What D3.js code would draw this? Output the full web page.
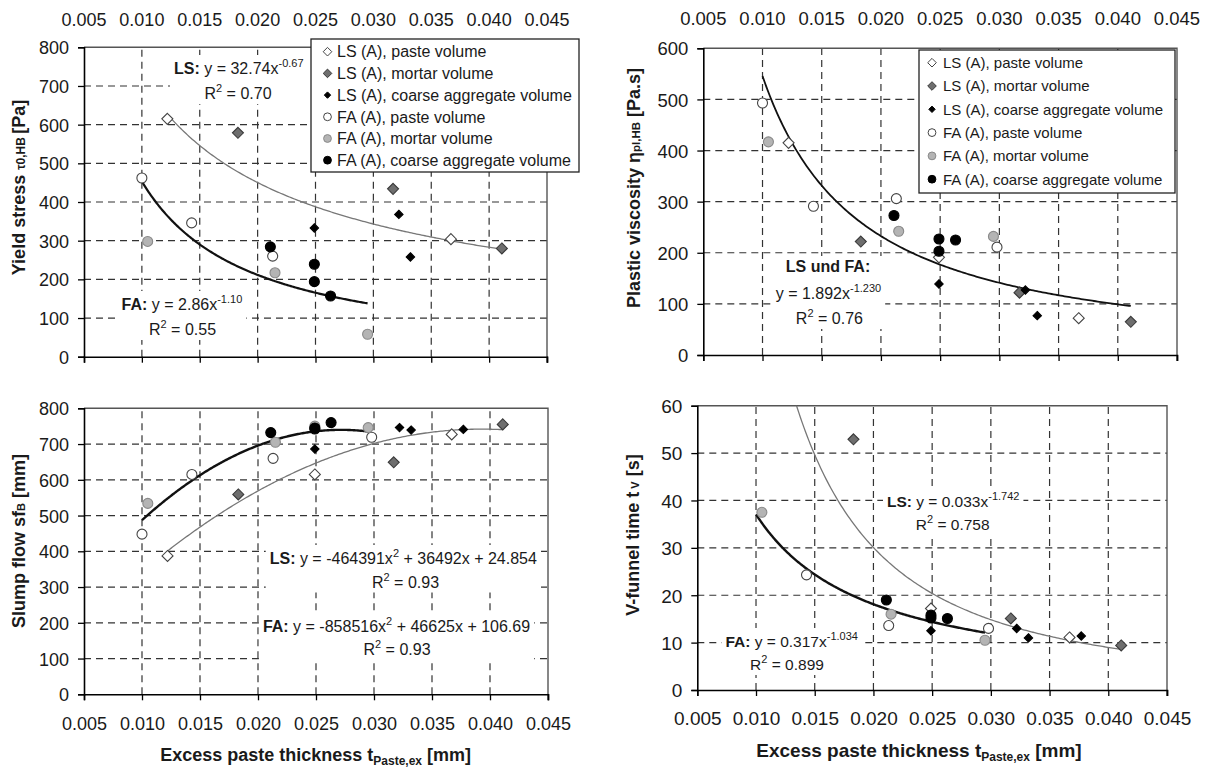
<!DOCTYPE html>
<html><head><meta charset="utf-8">
<script src="https://cdn.jsdelivr.net/npm/d3@7"></script>
<style>
body{margin:0;background:#fff}
svg{display:block;font-family:"Liberation Sans",Arial,sans-serif}
</style>
</head><body>
<svg id="c" width="1208" height="767"></svg>
<script>
// ---------- DATA ----------
const xTicks = [0.005, 0.010, 0.015, 0.020, 0.025, 0.030, 0.035, 0.040, 0.045];
const xTickLabels = ["0.005","0.010","0.015","0.020","0.025","0.030","0.035","0.040","0.045"];

const seriesNames = ["LS (A), paste volume","LS (A), mortar volume","LS (A), coarse aggregate volume",
                     "FA (A), paste volume","FA (A), mortar volume","FA (A), coarse aggregate volume"];

// excess paste thickness per series
const lsPasteX  = [0.0122, 0.0249, 0.0367];
const lsMortarX = [0.0183, 0.0317, 0.0411];
const lsCoarseX = [0.0249, 0.0322, 0.0332, 0.0377];
const faPasteX  = [0.0100, 0.0143, 0.0213, 0.0298];
const faMortarX = [0.0105, 0.0215, 0.0249, 0.0295];
const faCoarseX = [0.0211, 0.0249, 0.0249, 0.0263];

// Yield stress [Pa]
const yieldTicks = [0,100,200,300,400,500,600,700,800];
const yieldLsPaste  = [615, null, 304];
const yieldLsMortar = [579, 434, 280];
const yieldLsCoarse = [333, 368, 258, null];
const yieldFaPaste  = [462, 346, 260, null];
const yieldFaMortar = [298, 217, null, 58];
const yieldFaCoarse = [284, 239, 194, 157];

// Plastic viscosity [Pa.s]
const viscTicks = [0,100,200,300,400,500,600];
const viscLsPaste  = [415, 191, 72];
const viscLsMortar = [222, 122, 65];
const viscLsCoarse = [139, 127, 77, null];
const viscFaPaste  = [493, 291, 306, 211];
const viscFaMortar = [417, 242, null, 232];
const viscFaCoarse = [273, 227, 203, 225];

// Slump flow [mm]
const slumpTicks = [0,100,200,300,400,500,600,700,800];
const slumpLsPaste  = [387, 615, 727];
const slumpLsMortar = [559, 649, 755];
const slumpLsCoarse = [686, 746, 739, 741];
const slumpFaPaste  = [448, 615, 660, 719];
const slumpFaMortar = [534, 705, 750, 746];
const slumpFaCoarse = [732, 742, 745, 760];

// V-funnel time [s]
const funnelTicks = [0,10,20,30,40,50,60];
const funnelLsPaste  = [null, 17.2, 11.1];
const funnelLsMortar = [52.9, 15.1, 9.4];
const funnelLsCoarse = [12.5, 13.0, 11.0, 11.4];
const funnelFaPaste  = [null, 24.3, 13.6, 13.0];
const funnelFaMortar = [37.5, 16.0, null, 10.5];
const funnelFaCoarse = [19.0, 15.8, 15.2, 15.1];

// trendlines (as printed in the chart): power a*x^b or quadratic c2*x^2+c1*x+c0
const yieldLsFit  = {type:"pow", a:32.74, b:-0.67, from:0.0122, to:0.0411};
const yieldFaFit  = {type:"pow", a:2.86,  b:-1.10, from:0.0100, to:0.0295};
const viscFit     = {type:"pow", a:1.892, b:-1.230, from:0.0100, to:0.0411};
const slumpLsFit  = {type:"quad", c2:-464391, c1:36492, c0:24.854, from:0.0122, to:0.0411};
const slumpFaFit  = {type:"quad", c2:-858516, c1:46625, c0:106.69, from:0.0100, to:0.0295};
const funnelLsFit = {type:"pow", a:0.033, b:-1.742, from:0.0122, to:0.0411};
const funnelFaFit = {type:"pow", a:0.317, b:-1.034, from:0.0100, to:0.0295};

// ---------- DRAWING ----------
const svg = d3.select("#c");
const TXT = "#1a1a1a";
const seriesX = [lsPasteX, lsMortarX, lsCoarseX, faPasteX, faMortarX, faCoarseX];
const styles = [
  {shape:"d", r:5.5, fill:"#fff",   stroke:"#444"},
  {shape:"d", r:5.5, fill:"#6e6e6e",stroke:"#3a3a3a"},
  {shape:"d", r:4.2, fill:"#000",   stroke:"#000"},
  {shape:"c", r:5.0, fill:"#fff",   stroke:"#444"},
  {shape:"c", r:5.0, fill:"#b4b4b4",stroke:"#8a8a8a"},
  {shape:"c", r:5.0, fill:"#000",   stroke:"#000"}
];
function markerPath(s, r){
  if (s === "d") return `M0,${-r}L${r},0L0,${r}L${-r},0Z`;
  return d3.symbol(d3.symbolCircle, Math.PI*r*r)();
}
function fitFn(f){
  return f.type === "pow" ? (v => f.a*Math.pow(v, f.b)) : (v => f.c2*v*v + f.c1*v + f.c0);
}
// rich text: segs {t, b, sup, sub, fs}
function rich(g, x, y, segs, fs, anchor, weight){
  const t = g.append("text").attr("x", x).attr("y", y).attr("fill", TXT)
    .attr("font-size", fs).attr("text-anchor", anchor || "start");
  let shift = 0;
  segs.forEach(s => {
    let target = s.sup ? -Math.round(fs*0.42) : s.sub ? Math.round(fs*0.2) : 0;
    const sp = t.append("tspan").text(s.t).attr("dy", target - shift);
    shift = target;
    sp.attr("font-weight", s.b ? "bold" : (weight || "normal"));
    if (s.sup || s.sub || s.fs) sp.attr("font-size", s.fs || Math.round(fs*0.68));
  });
  return t;
}

const panels = [
  {key:"p1", x0:84, x1:547, yb:356.7, yt:47.3, ticks:yieldTicks, top:true, xLabBase:26, tickFs:18,
   ys:[yieldLsPaste,yieldLsMortar,yieldLsCoarse,yieldFaPaste,yieldFaMortar,yieldFaCoarse],
   fits:[{f:yieldLsFit, c:"#777", w:1.3},{f:yieldFaFit, c:"#111", w:2.2}],
   legend:{x:311, y:39, w:268, h:133, fs:16, row0:51.7, dy:21.7, mx:327.5, tx:337},
   ytitle:{x:25, y:187.5, segs:[{t:"Yield stress ",b:1},{t:"  τ0,HB ",fs:12},{t:" [Pa]",b:1}]},
   notes:[
     [{x:174, y:74, a:"start", segs:[{t:"LS:",b:1},{t:" y = 32.74x"},{t:"-0.67",sup:1}]},
      {x:238, y:99, a:"middle", segs:[{t:"R"},{t:"2",sup:1},{t:" = 0.70"}]}],
     [{x:121.6, y:310, a:"start", segs:[{t:"FA:",b:1},{t:" y = 2.86x"},{t:"-1.10",sup:1}]},
      {x:182.5, y:335, a:"middle", segs:[{t:"R"},{t:"2",sup:1},{t:" = 0.55"}]}]
   ], noteFs:16},
  {key:"p2", x0:703.3, x1:1177, yb:355, yt:48.3, ticks:viscTicks, top:true, xLabBase:25, tickFs:18.5,
   ys:[viscLsPaste,viscLsMortar,viscLsCoarse,viscFaPaste,viscFaMortar,viscFaCoarse],
   fits:[{f:viscFit, c:"#111", w:1.8}],
   legend:{x:919, y:50, w:256, h:143, fs:15, row0:62.7, dy:23.3, mx:932, tx:943},
   ytitle:{x:640, y:188, segs:[{t:"Plastic viscosity ",b:1},{t:"η",fs:18},{t:"pl,HB",b:1,fs:11.5},{t:" [Pa.s]",b:1}]},
   notes:[
     [{x:828, y:272, a:"middle", segs:[{t:"LS und FA:",b:1}]},
      {x:775.7, y:299, a:"start", segs:[{t:"y = 1.892x"},{t:"-1.230",sup:1}]},
      {x:829.4, y:324, a:"middle", segs:[{t:"R"},{t:"2",sup:1},{t:" = 0.76"}]}]
   ], noteFs:16},
  {key:"p3", x0:84, x1:548, yb:694.3, yt:408.3, ticks:slumpTicks, top:false, xLabBase:730, tickFs:18,
   ys:[slumpLsPaste,slumpLsMortar,slumpLsCoarse,slumpFaPaste,slumpFaMortar,slumpFaCoarse],
   fits:[{f:slumpLsFit, c:"#777", w:1.3},{f:slumpFaFit, c:"#111", w:2.4}],
   ytitle:{x:25, y:541, segs:[{t:"Slump flow sf",b:1},{t:"B",b:1,fs:11},{t:" [mm]",b:1}]},
   xtitle:{x:315.6, y:761, fs:18},
   notes:[
     [{x:269.7, y:564, a:"start", segs:[{t:"LS:",b:1},{t:" y = -464391x"},{t:"2",sup:1},{t:" + 36492x + 24.854"}]},
      {x:405.5, y:587.5, a:"middle", segs:[{t:"R"},{t:"2",sup:1},{t:" = 0.93"}]}],
     [{x:262.9, y:632, a:"start", segs:[{t:"FA:",b:1},{t:" y = -858516x"},{t:"2",sup:1},{t:" + 46625x + 106.69"}]},
      {x:397, y:655, a:"middle", segs:[{t:"R"},{t:"2",sup:1},{t:" = 0.93"}]}]
   ], noteFs:16},
  {key:"p4", x0:697.3, x1:1167, yb:690, yt:405.7, ticks:funnelTicks, top:false, xLabBase:725, tickFs:19,
   ys:[funnelLsPaste,funnelLsMortar,funnelLsCoarse,funnelFaPaste,funnelFaMortar,funnelFaCoarse],
   fits:[{f:funnelLsFit, c:"#777", w:1.3},{f:funnelFaFit, c:"#111", w:2.4}],
   ytitle:{x:639, y:535, segs:[{t:"V-funnel time t",b:1},{t:" V",b:1,fs:11},{t:" [s]",b:1}]},
   xtitle:{x:919, y:757, fs:19},
   notes:[
     [{x:887, y:507, a:"start", segs:[{t:"LS:",b:1},{t:" y = 0.033x"},{t:"-1.742",sup:1}]},
      {x:952.7, y:530, a:"middle", segs:[{t:"R"},{t:"2",sup:1},{t:" = 0.758"}]}],
     [{x:725.5, y:647, a:"start", segs:[{t:"FA:",b:1},{t:" y = 0.317x"},{t:"-1.034",sup:1}]},
      {x:787, y:670, a:"middle", segs:[{t:"R"},{t:"2",sup:1},{t:" = 0.899"}]}]
   ], noteFs:15.5}
];

panels.forEach(P => {
  const yMax = P.ticks[P.ticks.length-1];
  const x = d3.scaleLinear().domain([xTicks[0], xTicks[xTicks.length-1]]).range([P.x0, P.x1]);
  const y = d3.scaleLinear().domain([0, yMax]).range([P.yb, P.yt]);
  const g = svg.append("g");

  svg.append("clipPath").attr("id", "clip-"+P.key).append("rect")
    .attr("x", P.x0).attr("y", P.yt).attr("width", P.x1-P.x0).attr("height", P.yb-P.yt);

  // gridlines
  g.append("g").selectAll("line").data(xTicks.slice(1,-1)).join("line")
    .attr("x1", d=>x(d)).attr("x2", d=>x(d)).attr("y1", y(0)).attr("y2", y(yMax))
    .attr("stroke", "#333").attr("stroke-width", 1.2).attr("stroke-dasharray", "7,5");
  g.append("g").selectAll("line").data(P.ticks.slice(1,-1)).join("line")
    .attr("x1", P.x0).attr("x2", P.x1).attr("y1", d=>y(d)).attr("y2", d=>y(d))
    .attr("stroke", "#333").attr("stroke-width", 1.2).attr("stroke-dasharray", "7,5");

  // border top / right
  g.append("path").attr("d", `M${P.x0},${y(yMax)}H${P.x1}V${y(0)+6}`)
    .attr("fill","none").attr("stroke","#555").attr("stroke-width",1.4);

  // annotation boxes + text
  const noteG = svg.append("g");
  P.notes.forEach(grp => {
    const gg = noteG.append("g");
    const bg = gg.append("rect").attr("fill","#fff");
    grp.forEach(n => rich(gg, n.x, n.y, n.segs, P.noteFs, n.a));
    const bb = gg.node().getBBox();
    bg.attr("x", bb.x-4).attr("y", bb.y-2).attr("width", bb.width+8).attr("height", bb.height+4);
  });

  // axes
  const ax = svg.append("g").attr("transform", `translate(0,${y(0)})`)
    .call(d3.axisBottom(x).tickValues(xTicks).tickSize(6).tickFormat((d,i)=>xTickLabels[i]));
  ax.select(".domain").attr("stroke","#000").attr("stroke-width",1.6);
  ax.selectAll(".tick line").attr("stroke","#000").attr("stroke-width",1.3);
  if (P.top) {
    ax.selectAll("text").remove();
    const at = svg.append("g").attr("transform", `translate(0,${P.xLabBase})`);
    at.selectAll("text").data(xTicks).join("text")
      .attr("x", d=>x(d)).attr("text-anchor","middle").attr("font-size",P.tickFs).attr("fill",TXT)
      .text((d,i)=>xTickLabels[i]);
  } else {
    ax.selectAll("text").attr("y", P.xLabBase - P.yb).attr("dy", 0)
      .attr("font-size", P.tickFs).attr("fill", TXT);
  }
  ax.attr("font-family", null);

  const ay = svg.append("g").attr("transform", `translate(${P.x0},0)`)
    .call(d3.axisLeft(y).tickValues(P.ticks).tickSize(6).tickPadding(9).tickFormat(d3.format("d")));
  ay.attr("font-family", null);
  ay.select(".domain").attr("stroke","#000").attr("stroke-width",1.6);
  ay.selectAll(".tick line").attr("stroke","#000").attr("stroke-width",1.3);
  ay.selectAll("text").attr("font-size", P.tickFs).attr("fill", TXT).attr("dy","0.36em");

  // trendlines
  const line = d3.line().x(d=>x(d[0])).y(d=>y(d[1]));
  P.fits.forEach(F => {
    const fn = fitFn(F.f);
    const pts = d3.range(0, 201).map(i => {
      const v = F.f.from + (F.f.to - F.f.from)*i/200;
      return [v, fn(v)];
    });
    svg.append("path").attr("d", line(pts)).attr("clip-path", `url(#clip-${P.key})`)
      .attr("fill","none").attr("stroke",F.c).attr("stroke-width",F.w);
  });

  // markers
  P.ys.forEach((ys, si) => {
    const st = styles[si];
    const pts = seriesX[si].map((v,i)=>[v, ys[i]]).filter(d => d[1] !== null);
    svg.append("g").selectAll("path").data(pts).join("path")
      .attr("transform", d=>`translate(${x(d[0])},${y(d[1])})`)
      .attr("d", markerPath(st.shape, st.r))
      .attr("fill", st.fill).attr("stroke", st.stroke).attr("stroke-width", 1.1);
  });

  // legend
  if (P.legend) {
    const L = P.legend;
    const lg = svg.append("g");
    lg.append("rect").attr("x", L.x).attr("y", L.y).attr("width", L.w).attr("height", L.h)
      .attr("fill","#fff").attr("stroke","#222").attr("stroke-width",1.3);
    seriesNames.forEach((nm, i) => {
      const st = styles[i];
      const cy = L.row0 + i*L.dy;
      lg.append("path").attr("transform", `translate(${L.mx},${cy})`)
        .attr("d", markerPath(st.shape, st.shape==="d" ? (i===2?3.2:4.3) : 3.9))
        .attr("fill", st.fill).attr("stroke", st.stroke).attr("stroke-width",1);
      lg.append("text").attr("x", L.tx).attr("y", cy).attr("dy","0.36em")
        .attr("font-size", L.fs).attr("fill", TXT).text(nm);
    });
  }

  // y title
  const yt = svg.append("g").attr("transform", `translate(${P.ytitle.x},${P.ytitle.y}) rotate(-90)`);
  rich(yt, 0, 0, P.ytitle.segs, 18, "middle", "bold");

  // x title
  if (P.xtitle) {
    rich(svg, P.xtitle.x, P.xtitle.y,
      [{t:"Excess paste thickness t",b:1},{t:"Paste,ex",b:1,sub:1,fs:12},{t:" [mm]",b:1}],
      P.xtitle.fs, "middle", "bold");
  }
});
</script>
</body></html>
